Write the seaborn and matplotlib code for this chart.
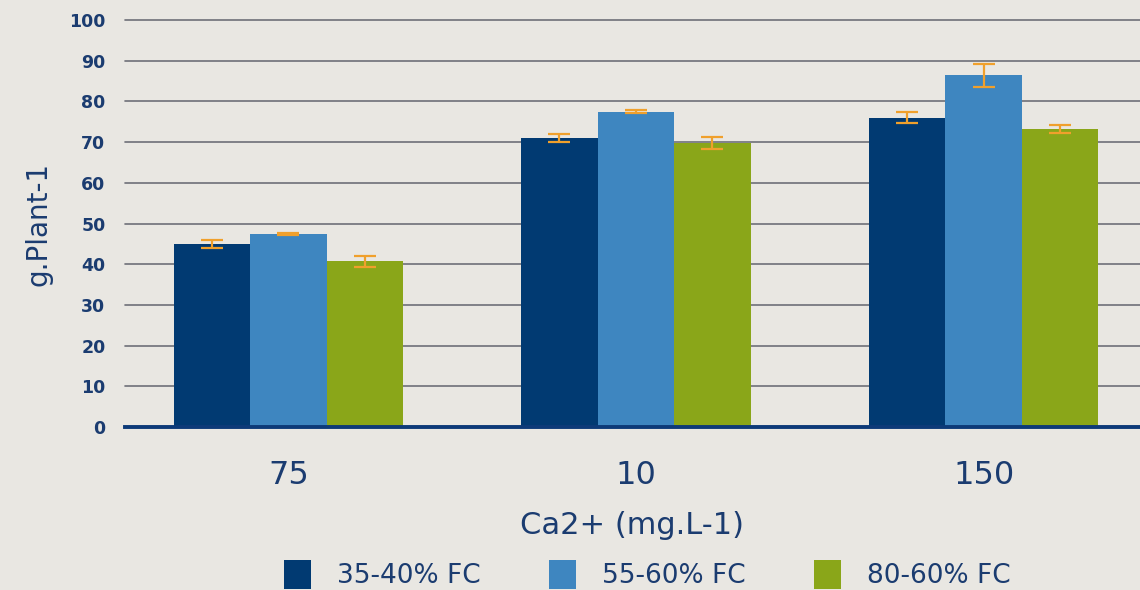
import matplotlib
matplotlib.use("Agg")
import matplotlib.pyplot as plt
import seaborn as sns
import pandas as pd

categories = ["75", "10", "150"]
series_names = ["35-40% FC", "55-60% FC", "80-60% FC"]
values_35_40 = [45.0, 71.1, 76.0]
values_55_60 = [47.4, 77.5, 86.4]
values_80_60 = [40.7, 69.8, 73.2]
errors_35_40 = [1.0, 1.0, 1.3]
errors_55_60 = [0.3, 0.3, 2.8]
errors_80_60 = [1.4, 1.5, 1.0]
y_ticks = [0, 10, 20, 30, 40, 50, 60, 70, 80, 90, 100]

colors = ["#013a72", "#3e86c0", "#8aa619"]
navy = "#1b3c70"
bg = "#e9e7e2"

rows = []
for name, vals, errs in zip(series_names,
                            [values_35_40, values_55_60, values_80_60],
                            [errors_35_40, errors_55_60, errors_80_60]):
    for c, v, e in zip(categories, vals, errs):
        rows.append({"Ca": c, "series": name, "value": v, "err": e})
df = pd.DataFrame(rows)

sns.set_theme(style="white")
plt.rcParams["font.family"] = ["DejaVu Sans"]

fig = plt.figure(figsize=(11.4, 5.9), dpi=100, facecolor=bg)
ax = fig.add_axes([0.1096, 0.2763, 0.8904, 0.6897])
ax.set_facecolor(bg)

ax.set_axisbelow(True)
for t in y_ticks[1:]:
    ax.axhline(t, color="#6e6f78", lw=1.2, zorder=0, clip_on=False)

sns.barplot(data=df, x="Ca", y="value", hue="series", order=categories,
            hue_order=series_names, palette=colors, width=0.66,
            errorbar=None, saturation=1, ax=ax, legend=True, zorder=2,
            linewidth=0, edgecolor="none")

for cont, name in zip(ax.containers, series_names):
    sub = df[df["series"] == name].set_index("Ca").loc[categories]
    xs = [p.get_x() + p.get_width() / 2 for p in cont.patches]
    ax.errorbar(xs, sub["value"].values, yerr=sub["err"].values, fmt="none",
                ecolor="#f0a02c", elinewidth=1.6, capsize=8, capthick=1.6,
                zorder=3)

ax.set_ylim(0, 100)
ax.set_xlim(-0.47, 2.45)
ax.set_yticks(y_ticks)
ax.set_yticklabels([str(t) for t in y_ticks], fontsize=12.5, fontweight="bold",
                   color=navy)
ax.tick_params(axis="y", length=0, pad=14)
ax.tick_params(axis="x", length=0, pad=24, labelsize=23, labelcolor=navy)
for s in ["top", "right", "left"]:
    ax.spines[s].set_visible(False)
ax.spines["bottom"].set_color("#0d3a78")
ax.spines["bottom"].set_linewidth(2.8)
ax.spines["bottom"].set_zorder(4)

ax.set_xlabel("Ca2+ (mg.L-1)", fontsize=22, color=navy, labelpad=14)
ax.set_ylabel("g.Plant-1", fontsize=20, color=navy, labelpad=12)

handles, labels = ax.get_legend_handles_labels()
ax.get_legend().remove()
fig.legend(handles, labels, loc="center", bbox_to_anchor=(0.568, 0.026),
           ncol=3, frameon=False, fontsize=19, handlelength=1.0,
           handleheight=1.3, handletextpad=1.0, columnspacing=2.6,
           labelcolor=navy)

fig.savefig("out.png", dpi=100, facecolor=bg)
